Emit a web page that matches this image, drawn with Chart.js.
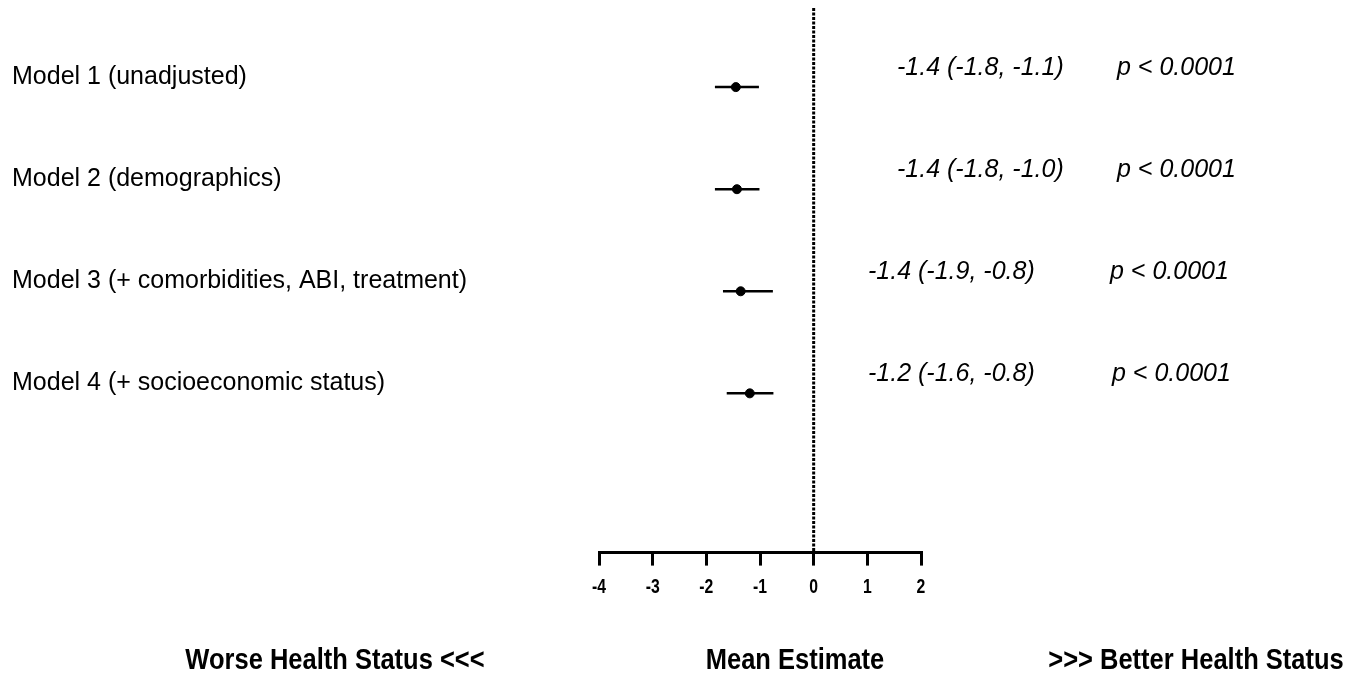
<!DOCTYPE html>
<html>
<head>
<meta charset="utf-8">
<script src="https://cdn.jsdelivr.net/npm/chart.js@4"></script>
<style>
  html, body { margin: 0; padding: 0; background: #fff; }
  canvas { display: block; }
</style>
</head>
<body>
<canvas id="forestChart" width="1362" height="677"></canvas>
<script>
const models = [
  'Model 1 (unadjusted)',
  'Model 2 (demographics)',
  'Model 3 (+ comorbidities, ABI, treatment)',
  'Model 4 (+ socioeconomic status)'
];
const estimates = [-1.45, -1.43, -1.36, -1.19];
const lower = [-1.84, -1.84, -1.69, -1.62];
const upper = [-1.02, -1.01, -0.76, -0.75];
const estimateLabels = ['-1.4 (-1.8, -1.1)', '-1.4 (-1.8, -1.0)', '-1.4 (-1.9, -0.8)', '-1.2 (-1.6, -0.8)'];
const pLabels = ['p < 0.0001', 'p < 0.0001', 'p < 0.0001', 'p < 0.0001'];
const xTicks = [-4, -3, -2, -1, 0, 1, 2];
const bottomLabels = ['Worse Health Status <<<', 'Mean Estimate', '>>> Better Health Status'];

const yMin = -0.775, yMax = 4.56;
const sans = '"Liberation Sans", Arial, Helvetica, sans-serif';

// one line dataset per confidence interval
const ciSets = models.map((m, i) => ({
  type: 'line',
  data: [{ x: lower[i], y: i }, { x: upper[i], y: i }],
  borderColor: '#000',
  borderWidth: 2.5,
  pointRadius: 0
}));

// condensed bold text: squeeze horizontally
function narrowText(ctx, text, cx, cy, size, squeeze) {
  ctx.save();
  ctx.font = 'bold ' + size + 'px ' + sans;
  ctx.textAlign = 'center';
  ctx.textBaseline = 'middle';
  ctx.translate(cx, cy);
  ctx.scale(squeeze, 1);
  ctx.fillText(text, 0, 0);
  ctx.restore();
}

const textPlugin = {
  id: 'forestText',
  afterDraw(chart) {
    const ctx = chart.ctx;
    const x = chart.scales.x;
    const y = chart.scales.y;
    ctx.save();
    ctx.fillStyle = '#000';
    ctx.textBaseline = 'middle';

    ctx.font = '25px ' + sans;
    ctx.textAlign = 'left';
    models.forEach((m, i) => ctx.fillText(m, 12, y.getPixelForValue(i) - 10));

    ctx.font = 'italic 25px ' + sans;
    ctx.textAlign = 'left';
    const estX = [897, 897, 868, 868];
    const pX = [1117, 1117, 1110, 1112];
    estimateLabels.forEach((t, i) => {
      ctx.fillText(t, estX[i], y.getPixelForValue(i) - 19);
      ctx.fillText(pLabels[i], pX[i], y.getPixelForValue(i) - 19);
    });

    // x tick labels, condensed bold
    xTicks.forEach(v => narrowText(ctx, String(v), x.getPixelForValue(v), 587, 21, 0.75));

    const centers = [335, 795, 1196];
    bottomLabels.forEach((t, i) => narrowText(ctx, t, centers[i], 661, 30, 0.85));
    ctx.restore();
  }
};

new Chart(document.getElementById('forestChart'), {
  type: 'scatter',
  data: {
    datasets: [
      {
        type: 'line',
        data: [{ x: 0, y: yMin }, { x: 0, y: yMax }],
        borderColor: '#000',
        borderWidth: 3,
        borderDash: [3, 1.5],
        pointRadius: 0
      },
      ...ciSets,
      {
        data: estimates.map((v, i) => ({ x: v, y: i })),
        backgroundColor: '#000',
        borderColor: '#000',
        pointRadius: 4.5,
        pointHoverRadius: 4.5
      }
    ]
  },
  options: {
    responsive: false,
    animation: false,
    layout: { padding: { left: 599, right: 441, top: 8, bottom: 71 } },
    plugins: { legend: { display: false }, tooltip: { enabled: false } },
    scales: {
      x: {
        type: 'linear',
        min: -4,
        max: 2,
        afterBuildTicks: scale => { scale.ticks = xTicks.map(v => ({ value: v })); },
        ticks: {
          color: 'rgba(0,0,0,0)',
          padding: 10,
          font: { family: sans, size: 17, weight: 'bold' }
        },
        grid: { drawOnChartArea: false, drawTicks: true, tickLength: 13, lineWidth: 3, color: '#000' },
        border: { display: true, width: 3, color: '#000' }
      },
      y: { display: false, min: yMin, max: yMax, reverse: true }
    }
  },
  plugins: [textPlugin]
});
</script>
</body>
</html>
